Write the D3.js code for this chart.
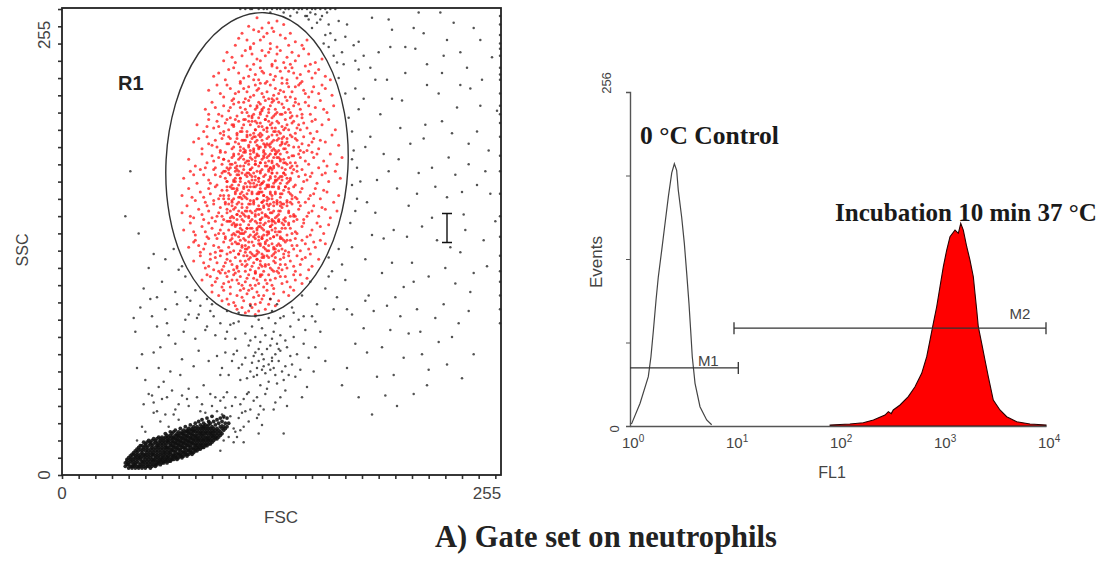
<!DOCTYPE html>
<html><head><meta charset="utf-8">
<script src="https://cdn.jsdelivr.net/npm/d3@7"></script>
<style>body{margin:0;background:#fff;}svg{display:block;}</style>
</head><body>
<svg id="c" width="1107" height="563"></svg>
<script>
// ---------------- DATA ----------------
const scatterTicks = [0, 255];
const histYTicks = [0, 64, 128, 192, 256];
const histXTicks = [1, 10, 100, 1000, 10000];
const gateR1 = {fsc: 117, ssc: 180, rFsc: 54.6, rSsc: 88, tilt: 3};

// gated (red) events inside R1: [FSC, SSC]
const redPts = [
[117,265],[124,262],[112,260],[129,263],[120,259],[133,261],[115,258],[126,259],
[108,256],[127,257],[134,253],[115,250],[121,254],[140,251],[104,249],[131,255],[118,257],[111,252],[144,249],[125,250],[137,256],[106,253],[129,248],[119,252],[113,248],[123,256],[136,249],[147,252],
[99,245],[113,247],[122,243],[131,246],[140,240],[148,244],[104,239],[117,241],[126,238],[135,242],[152,239],[108,243],[120,246],[128,240],[138,245],[145,247],[97,240],[115,238],[124,245],[133,239],[142,243],[110,246],[119,240],[156,241],[102,242],[129,244],[137,238],[114,244],[125,247],[149,238],
[94,233],[103,236],[109,230],[113,235],[118,229],[121,233],[126,237],[128,231],[131,234],[135,229],[138,236],[143,232],[146,237],[150,230],[154,235],[158,231],[98,229],[106,233],[111,237],[116,232],[123,228],[129,236],[132,230],[139,233],[144,228],[148,234],[161,229],[100,235],[112,231],[119,236],[125,232],[136,234],[152,233],[91,231],[107,228],[120,234],[127,229],[134,236],[141,230],[115,229],
[88,223],[93,226],[97,219],[101,224],[104,221],[107,227],[110,218],[112,225],[115,220],[117,223],[119,227],[121,219],[123,222],[125,226],[126,218],[128,224],[130,221],[132,227],[134,219],[136,225],[138,222],[140,218],[142,226],[145,223],[148,219],[151,225],[154,221],[158,224],[162,220],[99,226],[106,222],[113,219],[118,224],[122,227],[127,220],[131,223],[137,219],[143,227],[146,221],[109,224],[124,218],[133,222],[140,225],[116,226],[95,221],[120,221],[129,218],[135,227],[103,218],[111,222],[150,222],[156,226],
[86,212],[90,216],[94,209],[97,214],[100,211],[102,217],[105,208],[107,213],[109,216],[111,210],[113,214],[114,208],[116,212],[118,216],[119,209],[121,213],[122,217],[124,210],[125,214],[127,208],[128,212],[130,216],[131,209],[133,213],[135,217],[137,210],[139,214],[141,208],[143,212],[146,216],[149,209],[152,213],[155,217],[159,210],[163,214],[96,208],[103,215],[108,210],[112,217],[117,214],[120,211],[123,208],[126,216],[129,210],[132,215],[136,212],[140,216],[144,209],[148,214],[101,213],[106,216],[110,212],[115,209],[119,215],[124,212],[127,217],[134,210],[138,208],[142,215],[157,212],[92,213],[88,209],
[81,203],[85,199],[88,206],[91,201],[93,205],[95,198],[98,204],[100,200],[101,207],[103,202],[105,198],[106,205],[108,201],[110,206],[111,199],[113,203],[114,207],[116,200],[117,204],[119,198],[120,202],[122,206],[123,199],[125,203],[126,207],[128,201],[129,205],[131,198],[132,202],[134,206],[136,200],[138,204],[140,198],[142,203],[144,207],[147,201],[150,205],[153,199],[156,203],[160,206],[164,200],[97,199],[104,206],[109,203],[115,198],[118,207],[121,200],[124,205],[127,199],[130,204],[133,200],[137,207],[141,201],[145,204],[149,198],[102,203],[107,199],[112,205],[119,204],[126,201],[135,203],[139,205],[94,202],[99,206],[130,199],[116,205],[123,201],[143,200],[152,206],[87,202],
[79,193],[84,189],[87,196],[90,191],[92,194],[95,188],[97,197],[99,192],[101,195],[102,189],[104,193],[105,197],[107,190],[108,194],[110,188],[111,196],[112,191],[114,195],[115,189],[116,193],[118,197],[119,190],[120,194],[121,188],[123,192],[124,196],[125,190],[127,194],[128,188],[129,197],[131,191],[132,195],[134,189],[135,193],[137,197],[139,190],[141,194],[143,188],[145,196],[148,191],[151,195],[154,189],[158,193],[162,197],[166,191],[93,190],[100,196],[106,192],[109,189],[113,197],[117,191],[119,196],[122,190],[126,193],[130,188],[133,196],[136,191],[140,195],[144,192],[147,188],[103,190],[110,194],[116,196],[121,192],[127,189],[132,193],[138,196],[155,194],[96,195],[88,192],[113,188],[124,191],[130,195],[142,190],[150,193],[105,195],[118,189],[126,197],[134,192],[82,195],
[76,183],[80,179],[84,186],[87,181],[90,185],[92,178],[94,184],[96,180],[98,187],[100,182],[101,178],[103,185],[104,181],[106,186],[107,179],[109,183],[110,187],[112,180],[113,184],[114,178],[116,182],[117,186],[118,179],[120,183],[121,187],[122,181],[124,185],[125,178],[126,182],[128,186],[129,180],[130,184],[132,178],[133,183],[135,187],[137,181],[139,185],[141,179],[143,184],[145,187],[148,180],[151,184],[154,178],[157,182],[161,186],[165,180],[168,184],[86,178],[95,187],[102,180],[108,185],[111,182],[115,187],[119,181],[123,179],[127,184],[131,186],[134,181],[138,179],[142,186],[146,182],[150,187],[97,183],[105,179],[110,181],[118,185],[124,182],[129,187],[136,184],[140,181],[99,178],[113,186],[121,184],[127,179],[133,181],[153,186],[159,179],[91,182],[107,184],[116,180],[122,186],[131,182],
[73,172],[77,176],[81,169],[85,174],[88,171],[91,177],[93,168],[95,173],[97,176],[99,170],[101,174],[102,168],[104,172],[105,177],[107,170],[108,175],[110,169],[111,173],[113,177],[114,171],[115,175],[117,168],[118,172],[119,176],[121,170],[122,174],[123,168],[125,173],[126,177],[128,171],[129,175],[131,169],[132,173],[134,177],[136,170],[138,175],[140,168],[142,173],[144,177],[147,171],[150,175],[153,169],[156,174],[160,170],[164,176],[167,172],[79,174],[89,169],[96,175],[100,177],[103,170],[106,174],[109,177],[112,170],[116,173],[120,169],[124,176],[127,169],[130,172],[133,175],[137,172],[141,176],[145,170],[149,173],[98,172],[104,176],[111,175],[115,169],[120,177],[124,171],[128,173],[135,169],[139,177],[158,175],[83,177],[92,174],[107,172],[113,174],[118,170],[126,175],[132,171],[146,174],
[72,162],[76,166],[80,159],[83,164],[86,158],[89,163],[92,167],[94,160],[96,165],[98,158],[100,162],[101,167],[103,160],[104,164],[106,158],[107,163],[109,167],[110,161],[112,165],[113,159],[114,163],[116,167],[117,160],[118,164],[120,158],[121,162],[122,166],[124,160],[125,164],[127,158],[128,163],[130,167],[131,161],[133,165],[135,159],[137,163],[139,167],[141,160],[143,164],[146,158],[149,162],[152,166],[155,160],[159,164],[163,158],[166,162],[78,161],[88,166],[95,162],[99,167],[102,159],[105,165],[108,160],[111,163],[115,158],[119,166],[123,161],[126,167],[129,159],[132,163],[136,166],[140,161],[144,166],[148,160],[97,160],[103,166],[109,162],[113,167],[117,163],[121,159],[126,162],[131,158],[134,167],[138,160],[157,165],[85,161],[91,159],[106,161],[119,164],[124,167],[142,158],[151,163],
[72,152],[75,156],[79,149],[82,154],[85,148],[88,153],[91,157],[93,150],[95,155],[97,148],[99,152],[100,157],[102,150],[103,154],[105,148],[106,153],[108,157],[109,151],[111,155],[112,149],[113,153],[115,157],[116,150],[117,154],[119,148],[120,152],[121,156],[123,150],[124,154],[126,148],[127,153],[129,157],[130,151],[132,155],[134,149],[136,153],[138,157],[140,150],[142,154],[145,148],[148,152],[151,156],[154,150],[158,154],[161,149],[165,153],[77,150],[87,156],[94,152],[98,157],[101,149],[104,155],[107,150],[110,153],[114,148],[118,156],[122,151],[125,157],[128,149],[131,153],[135,156],[139,151],[143,156],[147,150],[96,150],[102,156],[108,152],[112,157],[116,153],[120,149],[125,152],[130,148],[133,157],[137,150],[156,155],[84,151],[90,149],[105,151],[118,154],[123,157],[141,148],[150,153],
[73,142],[77,146],[80,139],[84,144],[87,138],[90,143],[92,147],[94,140],[96,145],[98,138],[100,142],[101,147],[103,140],[104,144],[106,138],[107,143],[109,147],[110,141],[112,145],[113,139],[114,143],[116,147],[117,140],[118,144],[120,138],[121,142],[122,146],[124,140],[125,144],[127,138],[128,143],[130,147],[131,141],[133,145],[135,139],[137,143],[139,147],[141,140],[144,144],[147,138],[150,142],[153,146],[157,140],[160,145],[79,141],[88,146],[95,142],[99,147],[102,139],[105,145],[108,140],[111,143],[115,138],[119,146],[123,141],[126,147],[129,139],[132,143],[136,146],[140,141],[145,146],[149,139],[97,140],[103,146],[108,142],[113,147],[117,143],[121,139],[126,142],[131,138],[134,147],[138,140],[155,144],[86,141],[92,139],[106,141],[119,144],[124,147],
[76,132],[80,136],[83,129],[86,134],[89,128],[91,133],[93,137],[95,130],[97,135],[99,128],[100,132],[102,137],[103,130],[105,134],[106,128],[108,133],[109,137],[111,131],[112,135],[113,129],[115,133],[116,137],[117,130],[119,134],[120,128],[121,132],[123,136],[124,130],[126,134],[127,128],[129,133],[131,137],[132,131],[134,135],[136,129],[138,133],[140,137],[143,130],[146,134],[149,128],[152,132],[155,136],[82,133],[88,137],[94,132],[98,137],[101,129],[104,135],[107,130],[110,133],[114,128],[118,136],[122,131],[125,137],[128,129],[131,133],[135,136],[139,131],[144,136],[148,131],[96,130],[102,134],[107,136],[112,132],[117,128],[122,134],[127,131],[133,128],[137,136],[151,135],[85,131],[92,129],[110,129],[120,137],[130,130],[141,133],[158,134],[79,135],
[79,124],[83,127],[86,120],[89,125],[91,119],[93,123],[95,127],[97,121],[99,125],[100,118],[102,122],[104,126],[105,120],[107,124],[109,127],[110,121],[112,125],[113,119],[115,123],[116,127],[118,120],[119,124],[121,118],[122,122],[124,126],[125,120],[127,124],[129,118],[131,122],[133,126],[135,120],[137,124],[140,118],[143,122],[146,126],[150,121],[154,125],[85,123],[92,126],[96,119],[101,124],[106,118],[108,122],[111,127],[114,121],[117,125],[120,121],[123,127],[126,119],[128,123],[132,119],[136,127],[139,121],[144,125],[148,119],[98,123],[103,119],[110,124],[116,118],[121,126],[128,126],[134,122],[88,121],[94,118],[119,122],[141,127],
[84,113],[87,116],[90,110],[93,114],[95,117],[97,111],[99,115],[101,109],[102,113],[104,117],[106,111],[107,115],[109,108],[110,112],[112,116],[113,110],[115,114],[116,117],[118,111],[119,115],[121,109],[122,113],[124,116],[126,110],[128,114],[130,117],[132,111],[134,115],[137,109],[140,113],[143,116],[147,114],[89,115],[96,109],[100,112],[103,116],[108,110],[111,114],[114,108],[117,113],[120,116],[123,111],[127,108],[131,115],[135,112],[139,116],[105,113],[116,110],[125,113],[92,112],[144,111],[98,117],
[90,106],[94,104],[97,107],[99,102],[101,105],[103,100],[105,104],[107,107],[109,101],[111,105],[113,99],[115,103],[117,106],[119,100],[121,104],[123,107],[125,102],[127,105],[130,101],[133,106],[136,104],[139,107],[96,101],[104,98],[108,103],[112,107],[116,99],[120,102],[124,99],[128,98],[100,99],[118,104],
[105,96],[110,94],[114,97],[118,95],[122,96],[108,97],[116,93],[112,95]
];
// extra gated events in the dense core of the neutrophil cloud
const redCore = [
[112,150],[118,163],[105,141],[124,177],[131,156],[99,170],[115,188],[127,132],[108,199],[121,145],[135,172],[102,158],[117,125],[129,194],[111,167],[123,139],[97,183],[133,148],[114,205],[106,128],[126,160],[119,175],[138,185],[101,136],[116,151],[128,170],[109,179],[122,121],[134,201],[104,163],
[113,143],[125,186],[118,134],[107,172],[130,147],[100,192],[120,158],[136,164],[111,122],[127,178],[115,196],[103,149],[132,137],[119,210],[108,155],[124,168],[139,150],[98,176],[117,142],[129,184],
[110,131],[122,191],[105,166],[131,125],[116,180],[126,152],[102,145],[120,169],[135,180],[113,157],[128,141],[107,188],[123,130],[118,202],[137,158],[100,160],[114,173],[125,144],[109,140],[132,192],
[121,185],[104,178],[117,160],[130,166],[111,197],[126,127],[99,154],[134,143],[119,148],[106,134],[124,156],[115,167],[128,199],[103,171],[120,137],[133,175],[112,182],[127,147],[108,164],[122,206],
[118,129],[131,183],[105,157],[116,139],[125,172],[113,193],[136,152],[101,180],[121,162],[110,150],[129,158],[107,145],[123,195],[117,176],[134,130],[102,166],[126,188],[114,135],[130,141],[119,154],
[109,187],[124,149],[97,162],[137,171],[115,127],[128,164],[106,176],[120,143],[132,157],[111,160],[122,179],[104,139],[118,190],[127,138],[113,169],[135,195],[100,147],[125,163],[116,200],[108,132],
[131,173],[121,127],[110,174],[123,184],[105,151],[138,162],[117,146],[129,150],[112,138],[126,175],[103,186],[119,168],[133,136],[114,152],[107,161],[124,133],[120,197],[130,179],[109,166],[116,184],
[134,167],[101,153],[122,150],[127,156],[113,177],[106,183],[118,138],[132,146],[111,143],[125,192],[120,126],[104,170],[128,186],[115,159],[137,178],[108,148],[123,167],[117,194],[130,134],[112,190],
[126,145],[99,165],[119,181],[135,158],[110,136],[121,173],[114,164],[128,131],[105,174],[131,163],[116,171],[124,141],[102,184],[118,151],[133,189],[107,140],[126,181],[113,126],[120,164],[129,171],
[111,153],[122,135],[109,194],[136,145],[117,185],[104,145],[125,178],[115,141],[130,153],[119,133],[106,168],[127,167],[112,175],[123,159],[134,174],[100,175],[118,172],[128,146],[114,183],[121,155],
[110,118],[124,122],[116,117],[130,120],[105,121],[119,116],[127,118],[112,208],[120,212],[126,204],[109,206],[132,209],[117,213],[103,203],[123,201],[128,209]
];

// ungated (black) events: [FSC, SSC]
const blackUpper = [
[212,247],[189,171],[247,259],[174,199],[233,132],[198,218],[256,188],[181,243],[224,167],[205,109],
[239,226],[164,252],[217,195],[193,137],[251,214],[186,265],[229,243],[208,156],[176,224],[244,180],
[160,261],[197,248],[236,111],[219,226],[183,158],[253,136],[202,183],[169,238],[228,205],[247,117],
[191,209],[214,268],[174,183],[241,151],[206,233],[182,125],[258,242],[222,178],[199,142],[235,262],
[155,264],[188,229],[249,199],[210,123],[178,251],[231,161],[196,264],[243,236],[216,144],[172,207],
[257,163],[203,201],[184,104],[226,221],[150,259],[239,129],[193,186],[211,259],[168,245],[252,229],
[220,115],[185,196],[232,184],[177,160],[206,248],[245,106],[160,248],[198,123],[237,213],[214,175],
[261,211],[190,245],[225,136],[174,132],[249,168],[204,217],[166,230],[231,252],[188,152],[218,203],
[158,255],[242,142],[196,176],[227,268],[181,218],[255,121],[209,192],[171,261],[236,174],[200,103],
[147,266],[219,238],[186,139],[251,252],[213,163],[176,240],[230,120],[195,229],[244,192],[163,243],
[207,138],[239,245],[182,190],[222,149],[254,176],[198,258],[170,221],[234,198],[211,112],[245,224],
[153,262],[192,117],[228,233],[179,170],[217,256],[201,166],[260,147],[185,236],[240,164],[173,146],
[157,250],[166,263],[161,256],[170,254],[152,267],[175,249],[165,239],[148,264],[178,235],[159,268],
[175,188],[177,178],[174,168],[178,212],[176,153]
];
const blackMiddle = [
[47,97],[63,88],[55,71],[82,93],[71,58],[92,81],[50,55],[77,101],[60,44],[88,66],[44,83],[99,95],[68,76],[53,102],[85,52],
[74,90],[58,62],[95,58],[66,49],[103,70],[48,70],[80,79],[90,99],[57,86],[72,67],[62,96],[97,45],[86,84],[52,47],[76,50],
[45,62],[101,87],[69,99],[59,74],[84,41],[93,69],[65,60],[79,63],[54,92],[89,47],[73,83],[96,35],[61,54],[82,72],[106,62],
[49,41],[70,41],[91,92],[57,37],[64,81],[87,102],[75,44],[98,79],[67,35],[43,91],
[41,176],[52,120],[46,140],[55,128],[38,150],[49,108],
[60,112],[68,106],[75,103],[83,98],[89,95],[144,104],[149,112],[153,99],[158,108],[163,96],[139,94],[95,88],[131,91],[87,86],
[76,93],[160,115],[165,103],[170,113],[70,119],[74,115],[80,107],[62,125],[67,131],[72,121],[160,126],[162,118],[166,131],[168,122],
[145,92],[152,89],[81,91],[106,89],[118,90],[57,103],[171,96]
];
const blackCluster = [
[121,63],[116,71],[128,58],[119,77],[126,68],[113,60],[131,72],[124,54],[118,66],[134,63],[122,81],[110,68],[129,76],[125,61],[115,57],
[137,69],[120,70],[127,83],[112,75],[133,55],[123,73],[117,62],[130,66],[119,52],[126,79],[114,65],[135,74],[122,59],[128,70],[116,80],
[132,60],[121,67],[111,56],[125,75],[138,64],[118,73],[124,64],[129,53],[120,85],[134,78],[115,69],[127,62],[123,50],[131,81],[117,58],
[136,58],[113,78],[126,66],[120,61],[130,73],
[108,64],[141,70],[122,47],[114,86],[139,80],[105,72],[128,88],[117,45],[143,61],[110,82],[134,49],[124,91],[102,66],[145,76],[119,40],
[137,86],[107,55],[131,45],[126,95],[112,48],[140,57],[116,92],[148,68],[104,79],[133,92],[121,38],[146,84],[109,44],[128,42],[100,58],
[152,74],[98,71],[138,97],[113,98],[151,60],[103,88],[125,102],[147,51],[96,62],[142,90],[108,36],[155,83],[117,33],[135,40],[99,83],
[129,99],[158,66],[144,45],[106,94],[150,92],
[101,34],[96,29],[107,41],[93,37],[112,31],[104,45],[98,39],[110,37],[88,31],[115,43],[103,27],[91,25],[106,33],[99,48],[113,38],
[95,43],[109,28],[118,35],[86,36],[102,40],[120,29],[97,33],[111,47],[105,22],[92,45]
];
const blackLowerRight = [
[174,93],[197,84],[183,71],[213,96],[226,77],[189,57],[205,68],[238,88],[178,45],[219,52],[195,98],[231,64],[186,35],[208,82],
[244,95],[171,62],[216,70],[201,40],[234,80],[192,74],[224,91],[181,85],[211,47],[247,70],[199,58],[229,99],[176,76],[187,95],
[220,61],[168,52],[240,56],[203,92],[215,83],[194,46],[182,101]
];
const blobFuzz = [
[58,51],[54,46],[55,42],[55,36],[63,45],[72,46],[50,25],[59,31],[81,45],[83,37],[107,26],[109,19],[118,24],[127,38],[133,24],
[103,19],[95,14],[45,20],[48,28],[62,35],[68,38],[76,40],[64,28],[70,32],[90,40],[97,20],[100,22],[104,25]
];
const topEdgeFSC = [107,110,113,114,118,121,123,126,129,131,134,136,139,142,144,147,150,152,155,158,161,164,125,133,141,149,137,146,156];
const topEdgeSSC = [270,270,270,270,270,270,270,270,270,270,270,270,270,270,270,270,270,270,270,270,270,270,268,268,268,268,266,266,266];
const rightEdgeSSC = [266,261,255,250,247,243,236,232,229,221,214,209,204,196,185,176,163,150,138,127,118,112,104,96,88];

// low-scatter population: [FSC, [SSC...]]
const blobCols = [
[38,[5,7]],[39,[6,8,9]],[40,[4,6,7,10]],[41,[5,8,9,11]],[42,[4,5,7,10,12]],[43,[5,6,8,9,12,13]],[44,[4,6,7,10,11,14]],
[45,[5,8,9,12,13,15]],[46,[4,5,7,10,11,14,16]],[47,[5,6,9,10,12,15,17]],[48,[4,7,8,11,13,14,17]],[49,[5,6,8,10,12,15,16,19]],
[50,[4,7,9,11,12,14,17,18]],[51,[5,6,8,10,13,15,16,19]],[52,[5,7,9,11,12,14,17,20]],[53,[4,6,8,10,13,15,18,19]],
[54,[5,7,9,11,12,14,16,17,20]],[55,[6,8,9,12,13,15,18,21]],[56,[5,6,8,10,11,14,16,19,20]],[57,[6,7,9,12,13,15,17,18,21]],
[58,[7,8,10,11,14,16,17,19,22]],[59,[6,8,9,12,13,15,18,20,21]],[60,[7,9,10,11,14,16,17,19,22]],[61,[7,8,10,12,13,15,18,20,21]],
[62,[8,9,11,13,14,16,17,19,22,24]],[63,[7,9,10,12,15,16,18,20,21,23]],[64,[8,10,11,13,14,16,19,20,22]],[65,[8,9,12,13,15,17,18,21,23,25]],
[66,[9,10,11,14,15,17,19,20,22,24]],[67,[9,11,12,14,16,17,19,21,22,25]],[68,[10,11,13,14,16,18,19,21,23,26]],[69,[9,10,12,15,16,18,20,21,23,24]],
[70,[10,12,13,15,17,18,20,22,23,25]],[71,[11,12,14,15,17,19,20,22,24,27]],[72,[10,11,13,16,17,19,21,22,24,25]],[73,[11,13,14,16,18,19,21,23,24,26]],
[74,[12,13,15,16,18,20,21,23,25,28]],[75,[11,12,14,17,18,20,22,23,25,26]],[76,[12,14,15,17,19,20,22,24,25,27]],[77,[13,14,16,17,19,21,22,24,26,29]],
[78,[12,13,15,18,19,21,23,24,26,27]],[79,[13,15,16,18,20,21,23,25,26,28]],[80,[14,15,17,18,20,22,23,25,27,30]],[81,[14,16,17,19,21,22,24,26,28]],
[82,[15,16,18,20,21,23,25,27,31]],[83,[15,17,18,20,22,24,25,27,29]],[84,[16,17,19,21,23,24,26,28,32]],[85,[16,18,20,21,23,25,27,28,30]],
[86,[17,18,20,22,24,25,27,29]],[87,[17,19,21,22,24,26,28,33]],[88,[18,20,21,23,25,27,29,31]],[89,[18,20,22,24,25,27,30]],
[90,[19,21,23,24,26,28,34]],[91,[20,22,23,25,27,31]],[92,[21,22,24,26,29]],[93,[21,23,25,27,32]],[94,[22,24,26,30]],
[95,[23,25,28,33]],[96,[24,27,31]],[97,[26,28,34]],[98,[27,30]],[99,[28,33]],[100,[30]]
];

// Histogram: FL1 (log) vs Events
const controlFL1 =    [1.00, 1.04, 1.25, 1.50, 1.59, 1.68, 1.78, 1.87, 2.02, 2.17, 2.34, 2.52, 2.67, 2.81, 2.91, 3.14, 3.33, 3.51, 3.69, 3.83, 3.97, 4.22, 4.71, 5.46, 6.10];
const controlEvents = [1.5, 2.0, 17.4, 37.8, 53.1, 73.6, 96.6, 114, 135, 155, 176, 194, 201, 196, 181, 160, 140, 117, 94.0, 73.6, 53.1, 32.7, 14.8, 4.6, 1.0];
const incubFL1 =    [84, 130, 175, 219, 283, 305, 325, 340, 395, 474, 550, 638, 713, 767, 825, 889, 957, 1030, 1110, 1194, 1334, 1436, 1514, 1603, 1729, 1858, 2001, 2076, 2157, 2234, 2408, 2590, 2787, 3113, 3610, 4190, 5227, 7017, 10000];
const incubEvents = [0.8, 1.5, 2.5, 4.6, 8.4, 11.0, 9.5, 12.3, 16.1, 22.5, 30.1, 40.4, 53.1, 65.9, 78.7, 91.4, 106.8, 122.1, 134.9, 145.1, 150.2, 147.7, 155.4, 150.2, 137.4, 127.2, 114.4, 101.7, 88.9, 76.1, 63.4, 50.6, 37.8, 19.9, 12.3, 7.1, 3.3, 1.5, 0.8];
const markers = [
  {name: "M1", from: 1, to: 11, events: 44.5},
  {name: "M2", from: 10, to: 10000, events: 75}
];

// ---------------- DRAW ----------------
const svg = d3.select("#c");
svg.append("rect").attr("width", 1107).attr("height", 563).attr("fill", "#fff");
const SANS = "'Liberation Sans', Arial, sans-serif";
const SERIF = "'Liberation Serif', 'Times New Roman', serif";

const x1 = d3.scaleLinear().domain([0, 263.4]).range([62, 501]);
const y1 = d3.scaleLinear().domain([0, 270.6]).range([475, 8]);
const g1 = svg.append("g");

g1.append("g").attr("transform", "translate(0,475)")
  .call(d3.axisBottom(x1).tickValues(d3.range(0, 261, 10)).tickSize(4).tickFormat(""))
  .call(g => { g.select(".domain").remove(); g.selectAll("line").attr("stroke", "#333").attr("stroke-width", 1.6); });
g1.append("g").attr("transform", "translate(62,0)")
  .call(d3.axisLeft(y1).tickValues(d3.range(0, 271, 10)).tickSize(4).tickFormat(""))
  .call(g => { g.select(".domain").remove(); g.selectAll("line").attr("stroke", "#333").attr("stroke-width", 1.6); });

g1.append("g").selectAll("circle").data(redPts.concat(redCore)).join("circle")
  .attr("cx", d => x1(d[0])).attr("cy", d => y1(d[1])).attr("r", 1.5)
  .attr("fill", "#ff2020").attr("fill-opacity", 0.8);

const blk = [].concat(blackUpper, blackMiddle, blackCluster, blackLowerRight, blobFuzz);
topEdgeFSC.forEach((f, i) => blk.push([f, topEdgeSSC[i]]));
rightEdgeSSC.forEach(s => blk.push([262.8, s]));
g1.append("g").selectAll("circle").data(blk).join("circle")
  .attr("cx", d => x1(d[0])).attr("cy", d => y1(d[1])).attr("r", 1.25)
  .attr("fill", "#1a1a1a").attr("fill-opacity", 0.75);
const blob = [];
blobCols.forEach(([f, ss]) => ss.forEach(s => blob.push([f, s])));
g1.append("g").selectAll("circle").data(blob).join("circle")
  .attr("cx", d => x1(d[0])).attr("cy", d => y1(d[1])).attr("r", 1.9)
  .attr("fill", "#111").attr("fill-opacity", 0.9);

g1.append("rect").attr("x", x1(0)).attr("y", y1(270.6)).attr("width", x1(263.4) - x1(0)).attr("height", y1(0) - y1(270.6))
  .attr("fill", "none").attr("stroke", "#222").attr("stroke-width", 1.8);

const gcx = x1(gateR1.fsc), gcy = y1(gateR1.ssc);
g1.append("ellipse").attr("cx", gcx).attr("cy", gcy)
  .attr("rx", x1(gateR1.fsc + gateR1.rFsc) - gcx).attr("ry", gcy - y1(gateR1.ssc + gateR1.rSsc))
  .attr("transform", `rotate(${gateR1.tilt},${gcx},${gcy})`)
  .attr("fill", "none").attr("stroke", "#333").attr("stroke-width", 1.4);
g1.append("text").attr("x", 118).attr("y", 90).text("R1")
  .attr("font-family", SANS).attr("font-weight", "bold").attr("font-size", 20).attr("fill", "#222");

const cur = g1.append("g").attr("stroke", "#111").attr("stroke-width", 1.4).attr("fill", "none");
cur.append("path").attr("d", "M442,213.5H452M447,213.5V242.5M442,242.5H452");

const lab = (g, x, y, t, size, rot) => g.append("text")
  .attr("transform", `translate(${x},${y})` + (rot ? " rotate(-90)" : ""))
  .attr("text-anchor", "middle").attr("dominant-baseline", "central")
  .attr("font-family", SANS).attr("font-size", size).attr("fill", "#444").text(t);
scatterTicks.forEach(v => lab(g1, x1(v), 493, String(v), 17, false));
scatterTicks.forEach(v => lab(g1, 44, y1(v), String(v), 17, true));
lab(g1, 281, 517, "FSC", 17, false);
lab(g1, 22, 250, "SSC", 16, true);

// ---------------- Histogram ----------------
const x2 = d3.scaleLog().domain([1, 10000]).range([630, 1046]);
const y2 = d3.scaleLinear().domain([0, 256]).range([426, 92]);
const g2 = svg.append("g");

const inc = incubFL1.map((v, i) => [v, incubEvents[i]]);
g2.append("path").datum(inc)
  .attr("d", d3.area().x(d => x2(d[0])).y0(y2(0)).y1(d => y2(d[1])))
  .attr("fill", "#ff0000").attr("stroke", "#2a0000").attr("stroke-width", 1.1);

const ctl = controlFL1.map((v, i) => [v, controlEvents[i]]);
g2.append("path").datum(ctl)
  .attr("d", d3.line().x(d => x2(d[0])).y(d => y2(d[1])))
  .attr("fill", "none").attr("stroke", "#444").attr("stroke-width", 1.2);

g2.append("g").attr("transform", "translate(630,0)")
  .call(d3.axisLeft(y2).tickValues(histYTicks).tickSize(4).tickFormat(""))
  .call(g => { g.select(".domain").attr("stroke", "#555").attr("stroke-width", 1.4); g.selectAll("line").attr("stroke", "#555"); });
g2.append("g").attr("transform", "translate(0,426)")
  .call(d3.axisBottom(x2).tickValues(histXTicks).tickSize(0).tickFormat(""))
  .call(g => g.select(".domain").attr("stroke", "#555").attr("stroke-width", 1.4));

histXTicks.forEach(v => {
  const t = g2.append("text").attr("x", x2(v) - 8).attr("y", 448)
    .attr("font-family", SANS).attr("font-size", 15).attr("fill", "#444");
  t.append("tspan").text("10");
  t.append("tspan").attr("dy", -6).attr("font-size", 10).text(String(Math.round(Math.log10(v))));
});
lab(g2, 606, y2(256) - 9, "256", 13, true);
lab(g2, 614, y2(0) + 3, "0", 13, true);
lab(g2, 596, 262, "Events", 17, true);
lab(g2, 832, 472, "FL1", 16, false);

const mOff = {M1: [-30, -2], M2: [-26, -9]};
markers.forEach(m => {
  const yy = y2(m.events), xa = x2(m.from), xb = x2(m.to);
  g2.append("path").attr("d", `M${xa},${yy}H${xb}M${xb},${yy - 6}V${yy + 6}` + (m.from > 1 ? `M${xa},${yy - 6}V${yy + 6}` : ""))
    .attr("stroke", "#333").attr("stroke-width", 1.3).attr("fill", "none");
  g2.append("text").attr("x", xb + mOff[m.name][0]).attr("y", yy + mOff[m.name][1])
    .attr("text-anchor", "middle").attr("font-family", SANS).attr("font-size", 15).attr("fill", "#444").text(m.name);
});

function fitText(sel, w) {
  sel.attr("font-size", 20);
  const len = sel.node().getComputedTextLength();
  sel.attr("font-size", 20 * w / len);
}
const a1 = g2.append("text").attr("x", 640).attr("y", 144).text("0 °C Control")
  .attr("font-family", SERIF).attr("font-weight", "bold").attr("fill", "#1a1a1a");
fitText(a1, 139);
const a2 = g2.append("text").attr("x", 835).attr("y", 221).text("Incubation 10 min 37 °C")
  .attr("font-family", SERIF).attr("font-weight", "bold").attr("fill", "#1a1a1a");
fitText(a2, 262);

const cap = svg.append("text").attr("x", 435).attr("y", 547).text("A) Gate set on neutrophils")
  .attr("font-family", SERIF).attr("font-weight", "bold").attr("fill", "#222");
fitText(cap, 342);
</script>
</body></html>
